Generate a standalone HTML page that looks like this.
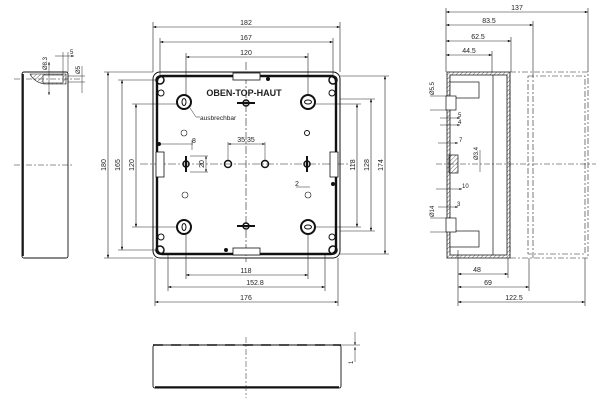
<!DOCTYPE html>
<html><head><meta charset="utf-8"><style>
html,body{margin:0;padding:0;background:#fff}
svg{display:block}
text{font-family:"Liberation Sans",sans-serif;font-size:7px;fill:#222}
</style></head><body>
<svg width="600" height="400" viewBox="0 0 600 400" xmlns="http://www.w3.org/2000/svg">
<defs>
<marker id="a" viewBox="0 0 8 6" refX="8" refY="3" markerWidth="6" markerHeight="4" orient="auto-start-reverse"><path d="M0,0L8,3L0,6z" fill="#111"/></marker>
<pattern id="h" width="3" height="3" patternUnits="userSpaceOnUse" patternTransform="rotate(45)"><line x1="0" y1="0" x2="0" y2="3" stroke="#444" stroke-width="0.8"/></pattern>
</defs>
<g stroke="#222" stroke-width="0.6" fill="none">
<!-- top dims -->
<line x1="153" y1="27" x2="340" y2="27" marker-start="url(#a)" marker-end="url(#a)"/>
<line x1="160" y1="42" x2="333" y2="42" marker-start="url(#a)" marker-end="url(#a)"/>
<line x1="186" y1="57" x2="308" y2="57" marker-start="url(#a)" marker-end="url(#a)"/>
<line x1="153" y1="22" x2="153" y2="72"/><line x1="340" y1="22" x2="340" y2="72"/>
<line x1="160" y1="38" x2="160" y2="78"/><line x1="333" y1="38" x2="333" y2="78"/>
<line x1="186" y1="53" x2="186" y2="95"/><line x1="308" y1="53" x2="308" y2="95"/>
<!-- left dims -->
<line x1="108" y1="72" x2="108" y2="258" marker-start="url(#a)" marker-end="url(#a)"/>
<line x1="122" y1="80" x2="122" y2="250" marker-start="url(#a)" marker-end="url(#a)"/>
<line x1="136" y1="104" x2="136" y2="227" marker-start="url(#a)" marker-end="url(#a)"/>
<line x1="104" y1="72" x2="153" y2="72"/><line x1="104" y1="258" x2="153" y2="258"/>
<line x1="118" y1="80" x2="158" y2="80"/><line x1="118" y1="250" x2="158" y2="250"/>
<line x1="132" y1="104" x2="178" y2="104"/><line x1="132" y1="227" x2="178" y2="227"/>
<!-- right dims -->
<line x1="357" y1="104" x2="357" y2="227" marker-start="url(#a)" marker-end="url(#a)"/>
<line x1="371" y1="99" x2="371" y2="231" marker-start="url(#a)" marker-end="url(#a)"/>
<line x1="385" y1="76" x2="385" y2="254" marker-start="url(#a)" marker-end="url(#a)"/>
<line x1="316" y1="104" x2="361" y2="104"/><line x1="316" y1="227" x2="361" y2="227"/>
<line x1="340" y1="99" x2="375" y2="99"/><line x1="340" y1="231" x2="375" y2="231"/>
<line x1="340" y1="76" x2="389" y2="76"/><line x1="340" y1="254" x2="389" y2="254"/>
<!-- bottom dims -->
<line x1="186" y1="275" x2="308" y2="275" marker-start="url(#a)" marker-end="url(#a)"/>
<line x1="168" y1="287" x2="325" y2="287" marker-start="url(#a)" marker-end="url(#a)"/>
<line x1="155" y1="302" x2="338" y2="302" marker-start="url(#a)" marker-end="url(#a)"/>
<line x1="186" y1="235" x2="186" y2="279"/><line x1="308" y1="235" x2="308" y2="279"/>
<line x1="168" y1="255" x2="168" y2="291"/><line x1="325" y1="255" x2="325" y2="291"/>
<line x1="155" y1="258" x2="155" y2="306"/><line x1="338" y1="258" x2="338" y2="306"/>
<!-- center lines -->
<line x1="140" y1="164" x2="352" y2="164" stroke-dasharray="8 2 2 2"/>
<line x1="246" y1="62" x2="246" y2="262" stroke-dasharray="8 2 2 2"/>
</g>
<!-- main box -->
<rect x="153" y="72" width="187" height="186" rx="7" fill="none" stroke="#111" stroke-width="1"/>
<rect x="157" y="76" width="179" height="178" rx="5" fill="none" stroke="#111" stroke-width="2.4"/>
<g fill="#fff" stroke="#111" stroke-width="0.8">
<rect x="233" y="73" width="27" height="7"/><rect x="233" y="248" width="27" height="7"/>
<rect x="156" y="152" width="8" height="25"/><rect x="330" y="152" width="8" height="25"/>
</g>
<g fill="none" stroke="#111">
<circle cx="160" cy="80" r="4" stroke-width="1.5"/><circle cx="333" cy="80" r="4" stroke-width="1.5"/>
<circle cx="160" cy="250" r="4" stroke-width="1.5"/><circle cx="333" cy="250" r="4" stroke-width="1.5"/>
<circle cx="161" cy="93" r="3" stroke-width="1"/><circle cx="332" cy="93" r="3" stroke-width="1"/>
<circle cx="161" cy="237" r="3" stroke-width="1"/><circle cx="332" cy="237" r="3" stroke-width="1"/>
<circle cx="184" cy="102" r="7" stroke-width="2"/><circle cx="308" cy="102" r="7" stroke-width="2"/>
<circle cx="184" cy="227" r="7" stroke-width="2"/><circle cx="308" cy="227" r="7" stroke-width="2"/>
<ellipse cx="184" cy="102" rx="2" ry="3.5" stroke-width="1"/><ellipse cx="308" cy="102" rx="3.5" ry="2" stroke-width="1"/>
<ellipse cx="184" cy="227" rx="2" ry="3.5" stroke-width="1"/><ellipse cx="308" cy="227" rx="3.5" ry="2" stroke-width="1"/>
<circle cx="186" cy="164" r="3" stroke-width="1.5"/><circle cx="228" cy="164" r="3.5" stroke-width="1.5"/>
<circle cx="265" cy="164" r="3.5" stroke-width="1.5"/><circle cx="307" cy="164" r="3" stroke-width="1.5"/>
<circle cx="246" cy="103" r="3" stroke-width="1.5"/><circle cx="246" cy="226" r="3" stroke-width="1.5"/>
<circle cx="184" cy="133" r="3" stroke-width="0.6"/><circle cx="185" cy="195" r="3" stroke-width="0.6"/>
<circle cx="308" cy="195" r="3" stroke-width="0.6"/><circle cx="307" cy="133" r="2.5" stroke-width="1"/>
</g>
<g stroke="#111" stroke-width="2">
<line x1="186" y1="156" x2="186" y2="172"/><line x1="307" y1="156" x2="307" y2="172"/>
<line x1="237" y1="103" x2="255" y2="103"/><line x1="237" y1="226" x2="255" y2="226"/>
</g>
<g fill="#111"><circle cx="159" cy="144" r="2"/><circle cx="333" cy="184" r="2"/><circle cx="268" cy="79" r="2"/><circle cx="226" cy="250" r="2"/></g>
<g stroke="#222" stroke-width="0.5" fill="none">
<line x1="228" y1="142" x2="228" y2="160" /><line x1="265" y1="142" x2="265" y2="160"/>
<line x1="228" y1="144" x2="265" y2="144" marker-start="url(#a)" marker-end="url(#a)"/>
<line x1="190" y1="156" x2="208" y2="156"/><line x1="190" y1="172" x2="208" y2="172"/>
<line x1="206" y1="156" x2="206" y2="172" marker-start="url(#a)" marker-end="url(#a)"/>
<line x1="160" y1="144" x2="193" y2="144"/><line x1="192" y1="140" x2="192" y2="150"/>
<line x1="296" y1="187" x2="310" y2="187"/>
<polyline points="190,108 196,117 200,117"/>
</g>
<text x="244" y="96" text-anchor="middle" style="font-weight:bold;font-size:9px">OBEN-TOP-HAUT</text>
<text x="200" y="120" style="font-size:6.5px">ausbrechbar</text>
<text x="246" y="25" text-anchor="middle">182</text>
<text x="246" y="40" text-anchor="middle">167</text>
<text x="246" y="55" text-anchor="middle">120</text>
<text x="246" y="273" text-anchor="middle">118</text>
<text x="255" y="285" text-anchor="middle">152.8</text>
<text x="246" y="300" text-anchor="middle">176</text>
<text x="246" y="142" text-anchor="middle">35.35</text>
<text x="192" y="143">8</text><text x="295" y="186">2</text>
<text transform="translate(106,165) rotate(-90)" text-anchor="middle">180</text>
<text transform="translate(120,165) rotate(-90)" text-anchor="middle">165</text>
<text transform="translate(134,165) rotate(-90)" text-anchor="middle">120</text>
<text transform="translate(204,164) rotate(-90)" text-anchor="middle">20</text>
<text transform="translate(355,165) rotate(-90)" text-anchor="middle">118</text>
<text transform="translate(369,165) rotate(-90)" text-anchor="middle">128</text>
<text transform="translate(383,165) rotate(-90)" text-anchor="middle">174</text>

<!-- left side view -->
<rect x="22" y="72" width="46" height="186" rx="2" fill="none" stroke="#111" stroke-width="0.9"/>
<line x1="23" y1="74" x2="23" y2="256" stroke="#111" stroke-width="1.6"/>
<path d="M30,74 L66,74 L66,84 L44,84 Q34,82 30,74z" fill="url(#h)" stroke="#111" stroke-width="0.6"/>
<rect x="43" y="75" width="20" height="8" fill="#fff" stroke="#111" stroke-width="0.6"/>
<g stroke="#222" stroke-width="0.5" fill="none">
<line x1="14" y1="79" x2="82" y2="79" stroke-dasharray="6 2 2 2"/>
<line x1="14" y1="165" x2="74" y2="165" stroke-dasharray="6 2 2 2"/>
<line x1="55" y1="56" x2="74" y2="56" marker-end="url(#a)"/><line x1="63" y1="52" x2="63" y2="75"/><line x1="68" y1="52" x2="68" y2="72"/>
<line x1="49" y1="62" x2="49" y2="95" marker-start="url(#a)" marker-end="url(#a)"/>
<line x1="82" y1="66" x2="82" y2="93"/><line x1="68" y1="76" x2="85" y2="76"/><line x1="68" y1="82" x2="85" y2="82"/>
</g>
<text transform="translate(47,70) rotate(-90)" style="font-size:6px">Ø8.3</text>
<text x="70" y="54" style="font-size:6px">5</text>
<text transform="translate(80,74) rotate(-90)" style="font-size:6px">Ø5</text>

<!-- right side view -->
<g stroke="#222" stroke-width="0.6" fill="none">
<line x1="446" y1="12" x2="588" y2="12" marker-start="url(#a)" marker-end="url(#a)"/>
<line x1="446" y1="25" x2="533" y2="25" marker-start="url(#a)" marker-end="url(#a)"/>
<line x1="446" y1="41" x2="511" y2="41" marker-start="url(#a)" marker-end="url(#a)"/>
<line x1="446" y1="55" x2="492" y2="55" marker-start="url(#a)" marker-end="url(#a)"/>
<line x1="446" y1="8" x2="446" y2="72"/><line x1="588" y1="8" x2="588" y2="72"/>
<line x1="533" y1="21" x2="533" y2="72"/><line x1="511" y1="37" x2="511" y2="72"/><line x1="492" y1="51" x2="492" y2="72"/>
<line x1="458" y1="274" x2="508" y2="274" marker-start="url(#a)" marker-end="url(#a)"/>
<line x1="458" y1="287" x2="529" y2="287" marker-start="url(#a)" marker-end="url(#a)"/>
<line x1="458" y1="302" x2="585" y2="302" marker-start="url(#a)" marker-end="url(#a)"/>
<line x1="458" y1="250" x2="458" y2="306"/><line x1="508" y1="258" x2="508" y2="278"/>
<line x1="529" y1="258" x2="529" y2="291"/><line x1="585" y1="258" x2="585" y2="306"/>
<rect x="510" y="72" width="78" height="186" stroke-dasharray="6 2 2 2"/>
<rect x="528" y="76" width="57" height="178" stroke-dasharray="6 2 2 2"/>
<line x1="533" y1="72" x2="533" y2="258" stroke-dasharray="6 2 2 2"/>
<line x1="436" y1="164" x2="596" y2="164" stroke-dasharray="6 2 2 2"/>
</g>
<path d="M447,72 H510 V258 H447 Z M450,75 V255 H507 V75 Z" fill="url(#h)" stroke="#111" stroke-width="0.8" fill-rule="evenodd"/>
<g fill="none" stroke="#111" stroke-width="0.7">
<line x1="493" y1="75" x2="493" y2="255"/>
<rect x="450" y="82" width="29" height="16" fill="#fff"/><rect x="450" y="231" width="29" height="16" fill="#fff"/>
<rect x="446" y="96" width="10" height="14" fill="#fff"/><rect x="446" y="218" width="10" height="14" fill="#fff"/>
<rect x="449" y="155" width="9" height="18" fill="url(#h)"/>
</g>
<g stroke="#222" stroke-width="0.5" fill="none">
<line x1="440" y1="118" x2="460" y2="118" marker-end="url(#a)"/><line x1="440" y1="125" x2="460" y2="125" marker-end="url(#a)"/>
<line x1="438" y1="143" x2="458" y2="143" marker-end="url(#a)"/><line x1="436" y1="189" x2="462" y2="189" marker-end="url(#a)"/>
<line x1="438" y1="207" x2="458" y2="207" marker-end="url(#a)"/>
<line x1="430" y1="96" x2="446" y2="96"/><line x1="430" y1="110" x2="446" y2="110"/>
<line x1="430" y1="218" x2="446" y2="218"/><line x1="430" y1="232" x2="446" y2="232"/>
<line x1="480" y1="150" x2="480" y2="172"/>
</g>
<text x="458" y="117" style="font-size:6px">5</text><text x="458" y="124" style="font-size:6px">4</text>
<text x="459" y="142" style="font-size:6px">7</text><text x="462" y="188" style="font-size:6px">10</text>
<text x="457" y="206" style="font-size:6px">3</text>
<text transform="translate(434,95) rotate(-90)" style="font-size:6px">Ø5.5</text>
<text transform="translate(434,217) rotate(-90)" style="font-size:6px">Ø14</text>
<text transform="translate(478,160) rotate(-90)" style="font-size:6px">Ø3.4</text>
<text x="517" y="10" text-anchor="middle">137</text>
<text x="489" y="23" text-anchor="middle">83.5</text>
<text x="478" y="39" text-anchor="middle">62.5</text>
<text x="469" y="53" text-anchor="middle">44.5</text>
<text x="477" y="272" text-anchor="middle">48</text>
<text x="488" y="285" text-anchor="middle">69</text>
<text x="514" y="300" text-anchor="middle">122.5</text>

<!-- bottom view -->
<rect x="153" y="345" width="188" height="43" rx="2" fill="none" stroke="#111" stroke-width="0.9"/>
<line x1="155" y1="387" x2="339" y2="387" stroke="#111" stroke-width="1.4"/>
<line x1="153" y1="345" x2="341" y2="345" stroke="#111" stroke-width="1.6" stroke-dasharray="10 8"/>
<line x1="246" y1="337" x2="246" y2="398" stroke="#222" stroke-width="0.5" stroke-dasharray="6 2 2 2"/>
<g stroke="#222" stroke-width="0.5"><line x1="341" y1="345" x2="360" y2="345"/><line x1="355" y1="332" x2="355" y2="345" marker-end="url(#a)"/><line x1="355" y1="362" x2="355" y2="347" marker-end="url(#a)"/></g>
<text transform="translate(353,364) rotate(-90)" style="font-size:6px">1</text>
</svg>
</body></html>
